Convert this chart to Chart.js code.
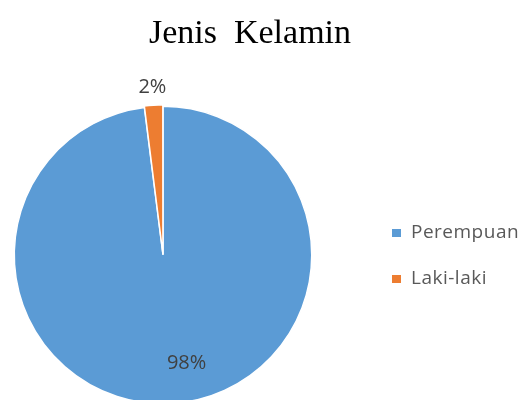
<!DOCTYPE html>
<html><head><meta charset="utf-8">
<script src="https://cdn.jsdelivr.net/npm/chart.js@4"></script>
<style>html,body{margin:0;padding:0;background:#fff;overflow:hidden;width:524px;height:400px}canvas{display:block}</style>
</head><body>
<canvas id="c" width="524" height="410" style="width:524px;height:410px"></canvas>
<script>
const titleText = "Jenis Kelamin";
const categories = ["Perempuan", "Laki-laki"];
const values = [98, 2];
const labelsPct = ["98%", "2%"];
const colors = ["#5B9BD5", "#ED7D31"];

const labelPlugin = {
  id: 'custom',
  afterDraw(chart) {
    const ctx = chart.ctx;
    ctx.save();
    // title
    ctx.fillStyle = '#000';
    ctx.font = '34px "Liberation Serif", "Times New Roman", serif';
    ctx.textAlign = 'center';
    ctx.textBaseline = 'alphabetic';
    ctx.fillText(titleText.replace(' ', '\u2002'), 250, 43);
    // data labels
    const meta = chart.getDatasetMeta(0);
    ctx.font = '20px "Open Sans", "Noto Sans", sans-serif';
    ctx.fillStyle = '#404040';
    ctx.textBaseline = 'middle';
    const opts = [{f: 0.737, da: -0.154}, {f: 1.137, da: 0.0}];
    meta.data.forEach((arc, i) => {
      const mid = (arc.startAngle + arc.endAngle) / 2 + opts[i].da;
      const r = arc.outerRadius * opts[i].f;
      ctx.fillText(labelsPct[i], arc.x + Math.cos(mid) * r, arc.y + Math.sin(mid) * r + 1);
    });
    // legend
    ctx.textAlign = 'left';
    ctx.font = '19px "Open Sans", "Noto Sans", sans-serif';
    try { ctx.letterSpacing = '0.5px'; } catch (e) {}
    categories.forEach((c, i) => {
      const y = 233 + i * 46;
      ctx.fillStyle = colors[i];
      ctx.fillRect(392, y - 4, 9, 8);
      ctx.fillStyle = '#595959';
      ctx.fillText(c, 411, y);
    });
    ctx.restore();
  }
};

new Chart(document.getElementById('c'), {
  type: 'pie',
  data: {
    labels: categories,
    datasets: [{
      data: values,
      backgroundColor: colors,
      borderColor: '#ffffff',
      borderWidth: 1.5,
      offset: [0, 3]
    }]
  },
  options: {
    responsive: false,
    animation: false,
    devicePixelRatio: 1,
    layout: { padding: { top: 104, bottom: 4, left: 12, right: 210 } },
    plugins: { legend: { display: false }, title: { display: false }, tooltip: { enabled: false } }
  },
  plugins: [labelPlugin]
});
</script>
</body></html>
